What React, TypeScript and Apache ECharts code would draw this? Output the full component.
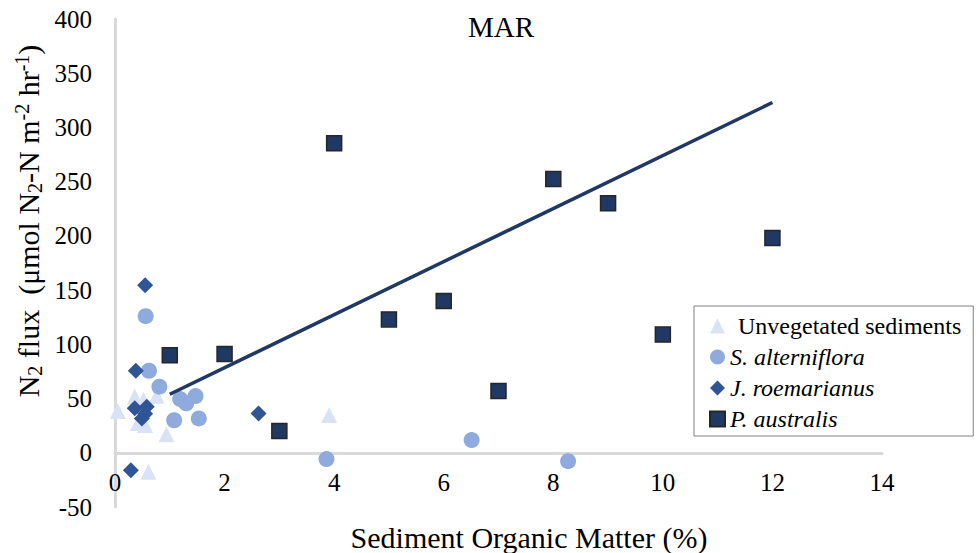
import React, { useEffect, useRef } from "react";
import * as echarts from "echarts";

const FONT = "'Liberation Serif', 'Times New Roman', serif";

const xTicks = { min: 0, max: 14, interval: 2 };
const yTicks = { min: -50, max: 400, interval: 50 };

const unvegX = [0.05, 0.36, 0.52, 0.76, 0.55, 0.42, 0.94, 0.61, 3.91];
const unvegY = [38.5, 51.7, 48.6, 52.6, 25.5, 27.4, 17, -17.5, 34.8];

const altX = [0.56, 0.62, 0.81, 1.19, 1.3, 1.47, 1.08, 1.53, 3.86, 6.51, 8.27];
const altY = [126, 75.6, 61, 49.5, 45.6, 52.3, 30, 31.7, -5.8, 11.7, -7.7];

const roemX = [0.55, 0.38, 2.62, 0.36, 0.58, 0.49, 0.55, 0.29];
const roemY = [154.5, 75.6, 36.3, 41, 42.4, 31.7, 36, -16];

const austX = [1, 2, 3, 4, 5, 6, 7, 8, 9, 10, 12];
const austY = [90, 91, 20, 285.4, 123, 140, 57, 252.5, 230, 109, 198];

const trendX = [1, 12];
const trendY = [54, 323];

const zip = (xs: number[], ys: number[]) => xs.map((x, i) => [x, ys[i]]);

export default function App() {
  const ref = useRef<HTMLDivElement>(null);
  useEffect(() => {
    document.body.style.margin = "0";
    const chart = echarts.init(ref.current!, null, { renderer: "svg" });
    chart.setOption({
      animation: false,
      backgroundColor: "#ffffff",
      textStyle: { fontFamily: FONT, color: "#000" },
      grid: { left: 115, right: 97, top: 19, bottom: 46, containLabel: false },
      xAxis: {
        type: "value",
        min: xTicks.min,
        max: xTicks.max,
        interval: xTicks.interval,
        axisLine: { show: true, onZero: true, lineStyle: { color: "#d9d9d9", width: 3 } },
        axisTick: { show: false },
        splitLine: { show: false },
        axisLabel: { fontSize: 25, color: "#000", fontFamily: FONT, margin: -37 },
      },
      yAxis: {
        type: "value",
        min: yTicks.min,
        max: yTicks.max,
        interval: yTicks.interval,
        axisLine: { show: true, onZero: false, lineStyle: { color: "#d9d9d9", width: 3 } },
        axisTick: { show: false },
        splitLine: { show: false },
        axisLabel: { fontSize: 25, color: "#000", fontFamily: FONT, margin: 23 },
      },
      legend: {
        orient: "vertical",
        left: 694,
        top: 306,
        width: 275,
        padding: [8, 12, 5, 15],
        itemGap: 7,
        itemWidth: 15,
        itemHeight: 15,
        borderColor: "#808080",
        borderWidth: 1,
        backgroundColor: "#ffffff",
        data: ["Unvegetated sediments", "S. alterniflora", "J. roemarianus", "P. australis"],
        formatter: (name: string) =>
          name === "Unvegetated sediments" ? `{n|${name}}` : `{i|${name}}`,
        textStyle: {
          color: "#000",
          fontFamily: FONT,
          fontSize: 24,
          rich: {
            n: { fontSize: 24, fontFamily: FONT, color: "#000", padding: [0, 0, 0, 8] },
            i: { fontSize: 24, fontFamily: FONT, color: "#000", fontStyle: "italic" },
          },
        },
      },
      graphic: [
        {
          type: "text",
          x: 501,
          y: 27,
          style: {
            text: "MAR",
            fontSize: 29,
            fontFamily: FONT,
            fill: "#000",
            align: "center",
            verticalAlign: "middle",
          },
        },
        {
          type: "text",
          x: 529,
          y: 537,
          style: {
            text: "Sediment Organic Matter (%)",
            fontSize: 30,
            fontFamily: FONT,
            fill: "#000",
            align: "center",
            verticalAlign: "middle",
          },
        },
        {
          type: "text",
          x: 28,
          y: 221,
          rotation: Math.PI / 2,
          style: {
            text: "{a|N}{s|2}{a| flux  (μmol N}{s|2}{a|-N m}{p|-2}{a| hr}{p|-1}{a|)}",
            fontFamily: FONT,
            fontSize: 30,
            align: "center",
            verticalAlign: "middle",
            fill: "#000",
            rich: {
              a: { fontSize: 30, fontFamily: FONT, lineHeight: 33, fill: "#000" },
              s: { fontSize: 20, fontFamily: FONT, lineHeight: 19, verticalAlign: "bottom", fill: "#000" },
              p: { fontSize: 20, fontFamily: FONT, lineHeight: 19, verticalAlign: "top", fill: "#000" },
            },
          },
        },
      ],
      series: [
        {
          name: "Unvegetated sediments",
          type: "scatter",
          symbol: "triangle",
          symbolSize: 16,
          itemStyle: { color: "#dae3f3", opacity: 1 },
          data: zip(unvegX, unvegY),
        },
        {
          name: "S. alterniflora",
          type: "scatter",
          symbol: "circle",
          symbolSize: 16,
          itemStyle: { color: "#8faadc", opacity: 1 },
          data: zip(altX, altY),
        },
        {
          name: "J. roemarianus",
          type: "scatter",
          symbol: "diamond",
          symbolSize: 16,
          itemStyle: { color: "#2f5597", opacity: 1 },
          data: zip(roemX, roemY),
        },
        {
          name: "P. australis",
          type: "scatter",
          symbol: "rect",
          symbolSize: 15,
          itemStyle: { color: "#203864", borderColor: "#262626", borderWidth: 1.5, opacity: 1 },
          data: zip(austX, austY),
        },
        {
          name: "trend",
          type: "line",
          symbol: "none",
          lineStyle: { color: "#203864", width: 3.5 },
          data: zip(trendX, trendY),
          z: 3,
        },
      ],
    });
    return () => chart.dispose();
  }, []);
  return <div ref={ref} style={{ width: 979, height: 553 }} />;
}
